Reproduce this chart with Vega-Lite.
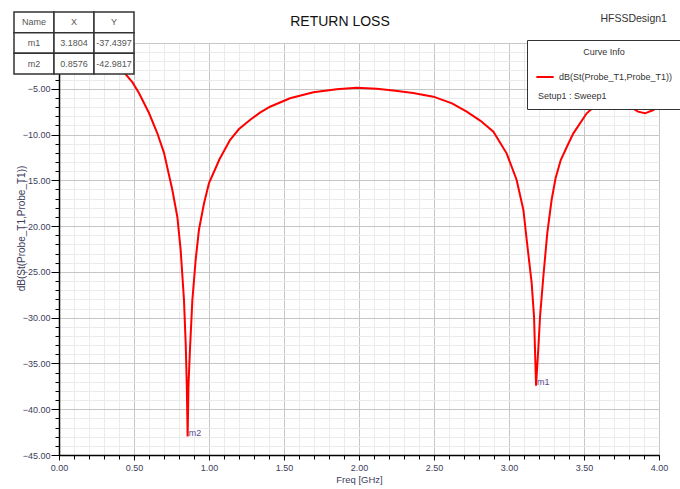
{
  "$schema": "https://vega.github.io/schema/vega-lite/v6.json",
  "width": 600,
  "height": 412,
  "autosize": {"type": "none"},
  "padding": {"left": 59, "top": 43, "right": 21, "bottom": 34},
  "background": "white",
  "config": {
    "font": "Liberation Sans, Arial, sans-serif",
    "view": {"stroke": "#000", "strokeWidth": 1},
    "axis": {"labelFontSize": 9, "labelColor": "#3d3d5c", "titleColor": "#3d3d5c", "titleFontWeight": "normal", "titleFontSize": 9.5, "labelFlush": false, "labelOverlap": false}
  },
  "title": {"text": "RETURN LOSS", "anchor": "middle", "frame": "group", "dx": -19, "baseline": "alphabetic", "offset": -29, "fontSize": 14, "fontWeight": "normal", "color": "#111"},
  "datasets": {
    "curve": [
      {"f": 0.0, "dB": -0.2}, {"f": 0.1, "dB": -0.3}, {"f": 0.2, "dB": -0.6}, {"f": 0.3, "dB": -1.1},
      {"f": 0.38, "dB": -2.0}, {"f": 0.444, "dB": -3.39}, {"f": 0.49, "dB": -4.3}, {"f": 0.533, "dB": -5.46},
      {"f": 0.6, "dB": -7.65}, {"f": 0.655, "dB": -9.83}, {"f": 0.7, "dB": -12.0}, {"f": 0.74, "dB": -14.9},
      {"f": 0.755, "dB": -16.0}, {"f": 0.789, "dB": -19.0}, {"f": 0.811, "dB": -22.6}, {"f": 0.833, "dB": -28.0},
      {"f": 0.845, "dB": -33.0}, {"f": 0.852, "dB": -37.5}, {"f": 0.8576, "dB": -42.98}, {"f": 0.863, "dB": -37.5},
      {"f": 0.873, "dB": -33.5}, {"f": 0.889, "dB": -28.1}, {"f": 0.911, "dB": -23.7}, {"f": 0.933, "dB": -20.4},
      {"f": 0.967, "dB": -17.5}, {"f": 1.0, "dB": -15.3}, {"f": 1.07, "dB": -12.7}, {"f": 1.14, "dB": -10.6},
      {"f": 1.2, "dB": -9.4}, {"f": 1.273, "dB": -8.41}, {"f": 1.34, "dB": -7.6}, {"f": 1.407, "dB": -6.96},
      {"f": 1.54, "dB": -6.04}, {"f": 1.696, "dB": -5.39}, {"f": 1.851, "dB": -5.06}, {"f": 1.984, "dB": -4.9},
      {"f": 2.118, "dB": -4.99}, {"f": 2.229, "dB": -5.2}, {"f": 2.36, "dB": -5.45}, {"f": 2.496, "dB": -5.86},
      {"f": 2.62, "dB": -6.6}, {"f": 2.718, "dB": -7.5}, {"f": 2.81, "dB": -8.5}, {"f": 2.896, "dB": -9.69},
      {"f": 2.984, "dB": -12.05}, {"f": 3.051, "dB": -14.96}, {"f": 3.096, "dB": -18.24}, {"f": 3.118, "dB": -21.5},
      {"f": 3.151, "dB": -26.2}, {"f": 3.167, "dB": -29.9}, {"f": 3.176, "dB": -35.0}, {"f": 3.1804, "dB": -37.44},
      {"f": 3.195, "dB": -33.5}, {"f": 3.207, "dB": -29.9}, {"f": 3.229, "dB": -25.5}, {"f": 3.255, "dB": -20.8},
      {"f": 3.284, "dB": -17.15}, {"f": 3.31, "dB": -14.8}, {"f": 3.345, "dB": -12.78}, {"f": 3.39, "dB": -11.2},
      {"f": 3.429, "dB": -9.87}, {"f": 3.518, "dB": -7.68}, {"f": 3.607, "dB": -6.41}, {"f": 3.673, "dB": -5.86},
      {"f": 3.69, "dB": -5.78}, {"f": 3.74, "dB": -6.41}, {"f": 3.807, "dB": -6.96}, {"f": 3.86, "dB": -7.5},
      {"f": 3.907, "dB": -7.68}, {"f": 3.962, "dB": -7.32}, {"f": 4.0, "dB": -6.77}
    ],
    "markers": [
      {"name": "m1", "X": 3.1804, "Y": -37.4397},
      {"name": "m2", "X": 0.8576, "Y": -42.9817}
    ],
    "table": [
      {"col": "Name", "row": "hdr", "text": "Name"},
      {"col": "X", "row": "hdr", "text": "X"},
      {"col": "Y", "row": "hdr", "text": "Y"},
      {"col": "Name", "row": "m1", "text": "m1"},
      {"col": "X", "row": "m1", "text": "3.1804"},
      {"col": "Y", "row": "m1", "text": "-37.4397"},
      {"col": "Name", "row": "m2", "text": "m2"},
      {"col": "X", "row": "m2", "text": "0.8576"},
      {"col": "Y", "row": "m2", "text": "-42.9817"}
    ]
  },
  "layer": [
    {
      "layer": [
        {
          "data": {"name": "curve"},
          "mark": {"type": "line", "strokeOpacity": 0},
          "encoding": {
            "x": {"field": "f", "type": "quantitative", "scale": {"domain": [0, 4], "nice": false},
              "axis": {"orient": "bottom", "tickCount": 40, "grid": true, "gridColor": "#ebebeb", "labels": false, "domain": false, "ticks": true, "tickSize": 4, "tickColor": "#000", "title": null}},
            "y": {"field": "dB", "type": "quantitative", "scale": {"domain": [-45, 0], "nice": false},
              "axis": {"orient": "left", "tickCount": 45, "grid": true, "gridColor": "#ebebeb", "labels": false, "domain": false, "ticks": true, "tickSize": 4, "tickColor": "#000", "title": null}}
          }
        },
        {
          "data": {"name": "curve"},
          "mark": {"type": "line", "strokeWidth": 2},
          "encoding": {
            "x": {"field": "f", "type": "quantitative", "scale": {"domain": [0, 4], "nice": false},
              "axis": {"orient": "bottom", "tickCount": 8, "format": ".2f", "grid": true, "gridColor": "#c6c6c6", "domain": true, "domainColor": "#000", "domainWidth": 1.5, "tickColor": "#000", "tickSize": 5, "labelPadding": 3, "title": "Freq [GHz]", "titlePadding": 2}},
            "y": {"field": "dB", "type": "quantitative", "scale": {"domain": [-45, 0], "nice": false},
              "axis": {"orient": "left", "tickCount": 9, "format": ".2f", "labelExpr": "datum.value === 0 ? '' : datum.label", "grid": true, "gridColor": "#c6c6c6", "domain": true, "domainColor": "#000", "domainWidth": 1.5, "tickColor": "#000", "tickSize": 8, "labelPadding": 1, "title": "dB(St(Probe_T1,Probe_T1))", "titleFontSize": 10, "titlePadding": -4, "titleY": 185}},
            "color": {"datum": "dB(St(Probe_T1,Probe_T1))", "type": "nominal",
              "scale": {"domain": ["dB(St(Probe_T1,Probe_T1))", "Setup1 : Sweep1"], "range": ["#ff0000", "rgba(0,0,0,0)"]},
              "legend": {"orient": "none", "legendX": 468, "legendY": -3, "title": "Curve Info", "titleAnchor": "middle", "titleFontSize": 9, "titleFontWeight": "normal", "titleColor": "#333", "titlePadding": 10, "labelFontSize": 9, "labelColor": "#333", "labelLimit": 300, "symbolType": "stroke", "symbolSize": 300, "symbolStrokeWidth": 2, "fillColor": "white", "strokeColor": "#333", "padding": 8, "rowPadding": 4, "labelOffset": 4,
                "encode": {"labels": {"update": {"dx": {"signal": "datum.label === 'Setup1 : Sweep1' ? -21 : 0"}}}}}}
          }
        },
        {
          "data": {"name": "markers"},
          "mark": {"type": "text", "align": "left", "baseline": "alphabetic", "dx": 1, "dy": -1, "fontSize": 9, "color": "#5b4b8a"},
          "encoding": {
            "x": {"field": "X", "type": "quantitative", "scale": {"domain": [0, 4], "nice": false}, "axis": null},
            "y": {"field": "Y", "type": "quantitative", "scale": {"domain": [-45, 0], "nice": false}, "axis": null},
            "text": {"field": "name"}
          }
        },
        {
          "data": {"values": [{"label": "HFSSDesign1"}]},
          "mark": {"type": "text", "align": "right", "baseline": "alphabetic", "fontSize": 10.5, "color": "#333"},
          "encoding": {
            "x": {"datum": 4.053, "type": "quantitative", "scale": {"domain": [0, 4], "nice": false}, "axis": null},
            "y": {"datum": 2.29, "type": "quantitative", "scale": {"domain": [-45, 0], "nice": false}, "axis": null},
            "text": {"field": "label"}
          }
        }
      ],
      "resolve": {"axis": {"x": "independent", "y": "independent"}}
    },
    {
      "data": {"name": "table"},
      "encoding": {
        "x": {"field": "col", "type": "nominal", "scale": {"type": "band", "domain": ["Name", "X", "Y"], "range": [-45, 75], "paddingInner": 0, "paddingOuter": 0}, "axis": null},
        "y": {"field": "row", "type": "nominal", "scale": {"type": "band", "domain": ["hdr", "m1", "m2"], "range": [-31, 31], "paddingInner": 0, "paddingOuter": 0}, "axis": null}
      },
      "layer": [
        {"mark": {"type": "rect", "fill": "white", "stroke": "#333", "strokeWidth": 1.5}},
        {"mark": {"type": "text", "fontSize": 9, "color": "#555"}, "encoding": {"text": {"field": "text"}}}
      ]
    }
  ],
  "resolve": {"scale": {"x": "independent", "y": "independent"}}
}
